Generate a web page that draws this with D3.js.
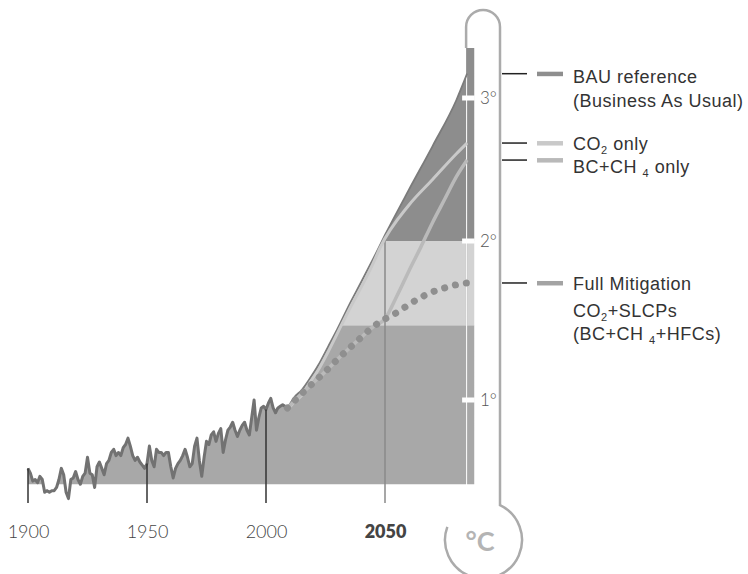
<!DOCTYPE html>
<html><head><meta charset="utf-8">
<script src="https://cdn.jsdelivr.net/npm/d3@7"></script>
<style>body{margin:0;background:#fff}svg{display:block}</style>
</head><body><svg id="c" width="748" height="574"></svg>
<script>
// ---------- DATA ----------
const histYears = d3.range(1900, 2010);
const histTemp = [
 0.57,0.54,0.49,0.50,0.48,0.52,0.50,0.42,0.43,0.42,
 0.43,0.43,0.45,0.50,0.57,0.53,0.42,0.38,0.50,0.51,
 0.55,0.50,0.47,0.52,0.54,0.64,0.54,0.53,0.45,0.58,
 0.61,0.57,0.53,0.60,0.62,0.67,0.69,0.65,0.67,0.65,
 0.70,0.72,0.76,0.71,0.65,0.62,0.64,0.61,0.59,0.57,
 0.60,0.71,0.62,0.58,0.69,0.67,0.67,0.65,0.67,0.67,
 0.58,0.51,0.57,0.60,0.62,0.65,0.69,0.64,0.58,0.60,
 0.71,0.76,0.62,0.52,0.64,0.74,0.72,0.78,0.80,0.74,
 0.79,0.82,0.67,0.75,0.81,0.83,0.86,0.81,0.77,0.81,
 0.84,0.86,0.81,0.78,0.89,1.00,0.81,0.89,0.95,0.96,
 0.94,0.98,1.01,0.95,0.92,0.95,0.96,0.97,0.96,0.95
];
const bauYears = [2009,2012,2015,2018,2022,2026,2030,2035,2040,2045,2050,2060,2070,2080,2084.5];
const bauTemp  = [0.95,1.019,1.063,1.126,1.22,1.333,1.447,1.60,1.742,1.887,2.042,2.357,2.664,2.986,3.17];
const co2Years = [2009,2012,2015,2018,2022,2026,2030,2035,2040,2045,2048,2060,2070,2080,2084.5];
const co2Temp  = [0.94,0.99,1.03,1.10,1.19,1.30,1.42,1.57,1.71,1.86,1.96,2.25,2.43,2.61,2.685];
const bcYears  = [2009,2015,2020,2025,2030,2035,2040,2045,2050,2055,2060,2065,2070,2075,2080,2084.5];
const bcTemp   = [0.95,1.04,1.11,1.18,1.255,1.325,1.394,1.46,1.51,1.654,1.81,1.96,2.13,2.29,2.45,2.566];
const fullYears= [2009,2015,2020,2025,2030,2035,2040,2045,2050,2055,2060,2065,2070,2075,2080,2084.5];
const fullTemp = [0.95,1.04,1.11,1.18,1.255,1.325,1.394,1.46,1.51,1.55,1.60,1.645,1.68,1.705,1.725,1.736];
const baseline = 0.47;
const bandLimits = [1.47, 2];
const xTicks = [1900, 1950, 2000, 2050];
const yTicks = [1, 2, 3];
const legendLabels = [
  ["BAU reference", "(Business As Usual)"],
  ["CO_2 only"],
  ["BC+CH _4 only"],
  ["Full Mitigation", "CO_2+SLCPs", "(BC+CH _4+HFCs)"]
];

// ---------- SCALES ----------
const svg = d3.select("#c");
const x = d3.scaleLinear().domain([1900, 2087.5]).range([28, 474.25]);
const y = d3.scaleLinear().domain([0, 1, 2, 3]).range([559, 400, 241, 98]);
const zip = (ys, vs) => ys.map((yr, i) => ({yr, v: vs[i]}));
const hist = zip(histYears, histTemp);
const bau = zip(bauYears, bauTemp);
const co2 = zip(co2Years, co2Temp);
const bc = zip(bcYears, bcTemp);
const full = zip(fullYears, fullTemp);
const envelope = hist.concat(bau.slice(1));
const lastYear = bauYears[bauYears.length - 1];

const area = d3.area().x(d => x(d.yr)).y0(y(baseline)).y1(d => y(Math.max(d.v, baseline))).curve(d3.curveMonotoneX);
const line = d3.line().x(d => x(d.yr)).y(d => y(d.v)).curve(d3.curveMonotoneX);
const lineLin = d3.line().x(d => x(d.yr)).y(d => y(d.v));

const defs = svg.append("defs");
const clip = defs.append("clipPath").attr("id", "under");
clip.append("path").attr("d", area(envelope));
clip.append("rect").attr("x", x(lastYear) - 1).attr("y", 48)
  .attr("width", x.range()[1] - x(lastYear) + 1).attr("height", y(baseline) - 48);

// bands
const g = svg.append("g").attr("clip-path", "url(#under)");
g.append("rect").attr("x", 0).attr("width", 748).attr("y", y(bandLimits[0])).attr("height", 574 - y(bandLimits[0])).attr("fill", "#a8a8a8");
g.append("rect").attr("x", 0).attr("width", 748).attr("y", y(bandLimits[1])).attr("height", y(bandLimits[0]) - y(bandLimits[1])).attr("fill", "#d3d3d3");
g.append("rect").attr("x", 0).attr("width", 748).attr("y", 0).attr("height", y(bandLimits[1])).attr("fill", "#8d8d8d");
g.append("line").attr("x1", x(lastYear) - 0.5).attr("x2", x(lastYear) - 0.5).attr("y1", y(bandLimits[1])).attr("y2", y(bandLimits[0]))
  .attr("stroke", "#bdbdbd").attr("stroke-width", 1.5);

// 2050 vertical
svg.append("line").attr("x1", x(2050)).attr("x2", x(2050)).attr("y1", y(bandLimits[1])).attr("y2", 503)
  .attr("stroke", "#8a8a8a").attr("stroke-width", 1.5);

// historical line
svg.append("path").attr("d", lineLin(hist)).attr("fill", "none").attr("stroke", "#727272").attr("stroke-width", 3).attr("stroke-linejoin", "round");
// BAU edge
svg.append("path").attr("d", line(bau)).attr("fill", "none").attr("stroke", "#7b7b7b").attr("stroke-width", 1.8);
// CO2 only
svg.append("path").attr("d", line(co2)).attr("fill", "none").attr("stroke", "#c9c9c9").attr("stroke-width", 3);
// BC + CH4 only
svg.append("path").attr("d", line(bc)).attr("fill", "none").attr("stroke", "#bababa").attr("stroke-width", 3.5);
// Full mitigation dots
svg.append("path").attr("d", line(full)).attr("fill", "none").attr("stroke", "#8f8f8f").attr("stroke-width", 7)
  .attr("stroke-linecap", "round").attr("stroke-dasharray", "0.1 11");

// tick lines
const valueAt = yr => {
  const h = hist.find(d => d.yr === yr);
  return h ? h.v : bauTemp[bauYears.indexOf(yr)];
};
svg.selectAll(".tk").data(xTicks.filter(t => t < 2050)).join("line")
  .attr("x1", d => x(d)).attr("x2", d => x(d)).attr("y1", d => y(valueAt(d))).attr("y2", 503)
  .attr("stroke", "#333").attr("stroke-width", 1.5);

// white degree ticks
svg.selectAll(".wt").data(yTicks).join("rect")
  .attr("x", x(lastYear) - 5).attr("y", d => y(d) - 2.5).attr("width", x.range()[1] - x(lastYear) + 5.5).attr("height", 5)
  .attr("fill", "#fff");

// thermometer
const cx = 483.5, cy = 540, r = 38.5, a = 200 * Math.PI / 180;
const tubeL = x(lastYear) - 1, tubeR = 500, capR = (tubeR - tubeL) / 2;
const startY = cy - Math.sqrt(r * r - (tubeR - cx) * (tubeR - cx));
svg.append("path")
  .attr("d", `M${tubeL},48 L${tubeL},${10 + capR} A${capR},${capR} 0 0 1 ${tubeR},${10 + capR} L${tubeR},${startY} A${r},${r} 0 1 1 ${cx + r * Math.cos(a)},${cy + r * Math.sin(a)}`)
  .attr("fill", "none").attr("stroke", "#ababab").attr("stroke-width", 2.5);
svg.append("text").attr("x", 480).attr("y", 551).attr("text-anchor", "middle")
  .attr("font-family", "Lato").attr("font-weight", 700).attr("font-size", 27).attr("fill", "#b4b4b4").text("°C");

// x axis labels
const xa = svg.append("g").attr("transform", "translate(0,525)")
  .call(d3.axisBottom(x).tickValues(xTicks).tickFormat(d3.format("d")).tickSize(0).tickPadding(0));
xa.select(".domain").remove();
xa.selectAll("text").attr("font-family", "Lato").attr("font-size", 18).attr("fill", "#444")
  .attr("font-weight", d => d === 2050 ? 800 : 300);

// y axis labels
const ya = svg.append("g").attr("transform", "translate(480,0)")
  .call(d3.axisRight(y).tickValues(yTicks).tickFormat(d => d + "°").tickSize(0).tickPadding(0));
ya.select(".domain").remove();
ya.selectAll("text").attr("font-family", "Lato").attr("font-weight", 300).attr("font-size", 17).attr("fill", "#555");

// legend
const legendSeries = [bau, co2, bc, full];
const swatch = ["#8e8e8e", "#c9c9c9", "#b9b9b9", "#a3a3a3"];
const textOffset = [[9.5, 33], [6.5], [13], [7, 34, 57]];
legendSeries.forEach((s, i) => {
  const ly = y(s[s.length - 1].v);
  svg.append("line").attr("x1", 502).attr("x2", 527).attr("y1", ly).attr("y2", ly).attr("stroke", "#222").attr("stroke-width", 1.5);
  svg.append("rect").attr("x", 537).attr("y", ly - 2).attr("width", 26).attr("height", 4.5).attr("fill", swatch[i]);
  legendLabels[i].forEach((lab, j) => {
    const t = svg.append("text").attr("x", 573).attr("y", ly + textOffset[i][j])
      .attr("font-family", "Liberation Sans, Arial, sans-serif").attr("font-size", 18)
      .attr("letter-spacing", 0.5).attr("fill", "#333");
    const parts = lab.split(/_(\d)/);
    let shift = 0;
    parts.forEach((p, k) => {
      if (k % 2 === 1) { t.append("tspan").attr("dy", 4).attr("font-size", 11).text(p); shift = 1; }
      else if (p) { t.append("tspan").attr("dy", shift ? -4 : 0).text(p); shift = 0; }
    });
  });
});
</script>
</body></html>
